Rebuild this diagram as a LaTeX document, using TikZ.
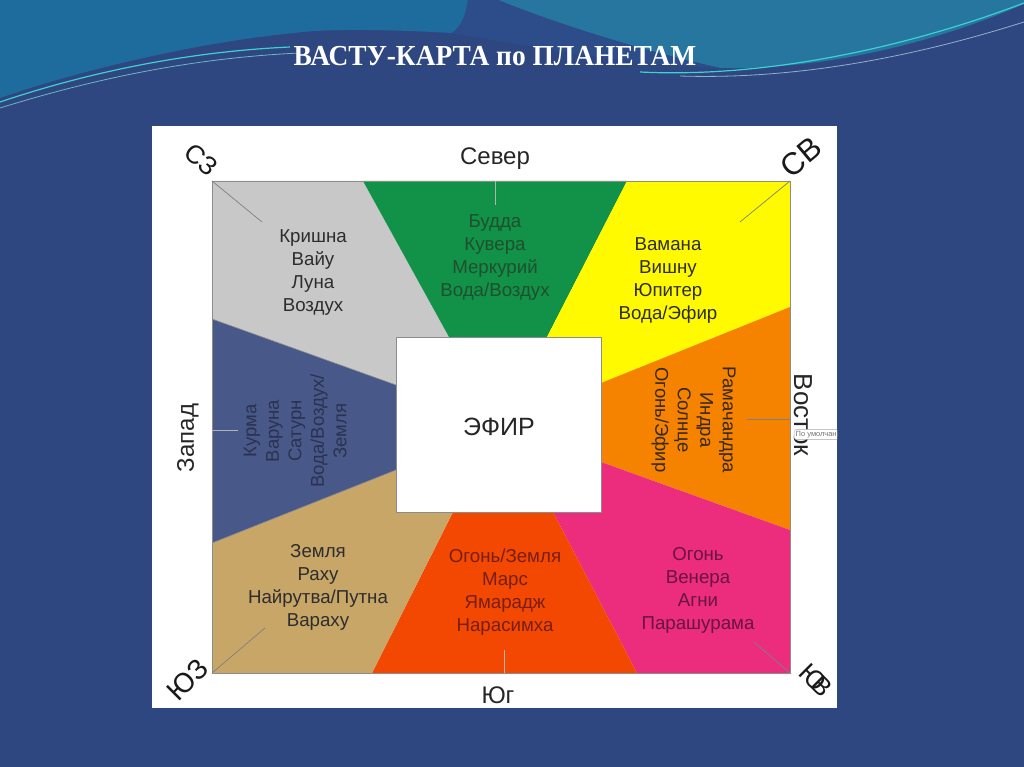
\documentclass[tikz,border=0pt]{standalone}
\usepackage{fontspec}
\setmainfont{Liberation Sans}
\newfontfamily\titlefont{Liberation Serif}
\definecolor{bgblue}{RGB}{46,71,128}
\definecolor{wavebg}{RGB}{30,108,158}
\definecolor{wavebgr}{RGB}{38,118,160}
\definecolor{ribbon}{RGB}{44,76,138}
\definecolor{cyanline}{RGB}{60,210,210}
\definecolor{cgray}{RGB}{200,200,200}
\definecolor{cgreen}{RGB}{18,145,72}
\definecolor{cyellow}{RGB}{255,250,0}
\definecolor{corange}{RGB}{245,131,0}
\definecolor{cpink}{RGB}{236,44,124}
\definecolor{cred}{RGB}{242,72,2}
\definecolor{ctan}{RGB}{199,166,104}
\definecolor{cblue}{RGB}{72,88,136}
\definecolor{txt}{RGB}{45,45,45}
\begin{document}
\begin{tikzpicture}[x=1pt,y=-1pt,
  lbl/.style={align=center,inner sep=0pt,font=\fontsize{18.7}{23}\selectfont,text=txt},
  dirl/.style={inner sep=0pt,font=\fontsize{24}{24}\selectfont,text=black!85},
  corner/.style={inner sep=0pt,text=black!90},
  tick/.style={draw=black!50,line width=0.7pt},
]
\useasboundingbox (0,0) rectangle (1024,767);
% background
\fill[bgblue] (0,0) rectangle (1024,767);
\fill[wavebg] (0,0) -- (468,0) .. controls (466,14) and (462,26) .. (452,33)
  .. controls (400,30) and (330,28) .. (294,33)
  .. controls (200,42) and (80,70) .. (0,98) -- cycle;
\fill[wavebgr] (498,0) -- (1024,0) -- (1024,4)
  .. controls (930,45) and (820,70) .. (720,68)
  .. controls (640,50) and (560,25) .. (498,0) -- cycle;
\fill[ribbon] (468,0) -- (498,0) .. controls (560,25) and (640,50) .. (720,68)
  .. controls (640,66) and (520,45) .. (452,33) .. controls (462,26) and (466,14) .. (468,0) -- cycle;
\draw[cyanline,line width=1.2pt] (0,102) .. controls (80,75) and (180,52) .. (290,47);
\draw[cyanline!60!white,line width=0.8pt,opacity=0.7] (0,108) .. controls (90,80) and (190,58) .. (300,53);
\draw[cyanline,line width=1.2pt] (640,72) .. controls (760,78) and (900,50) .. (1024,3);
\draw[white!80!cyanline,line width=0.8pt,opacity=0.6] (680,76) .. controls (800,80) and (920,55) .. (1024,22);
% title
\node (title) at (495,56) {\titlefont\bfseries\fontsize{29}{29}\selectfont\color{white}\scalebox{0.945}[1]{ВАСТУ-КАРТА по ПЛАНЕТАМ}};
% white panel
\fill[white] (152,126) rectangle (837,708);
% sectors
\fill[cgray] (212,181) -- (363,181) -- (449,337) -- (396,337) -- (396,385) -- (212,319) -- cycle;
\fill[cgreen] (363,181) -- (627,181) -- (547,337) -- (449,337) -- cycle;
\fill[cyellow] (627,181) -- (790,181) -- (790,307) -- (601,383) -- (601,337) -- (547,337) -- cycle;
\fill[corange] (790,307) -- (790,530) -- (601,462) -- (601,383) -- cycle;
\fill[cpink] (790,530) -- (790,673) -- (637,673) -- (553,512) -- (601,512) -- (601,462) -- cycle;
\fill[cred] (553,512) -- (637,673) -- (372,673) -- (453,512) -- cycle;
\fill[ctan] (453,512) -- (372,673) -- (212,673) -- (212,543) -- (396,470) -- (396,512) -- cycle;
\fill[cblue] (212,319) -- (396,385) -- (396,470) -- (212,543) -- cycle;
\draw[black!45,line width=0.6pt] (212,319) -- (396,385) (212,543) -- (396,470);
\draw[black!45,line width=0.8pt] (212,181) rectangle (790,673);
% centre
\node[draw=black!45,line width=0.8pt,fill=white,minimum width=205pt,minimum height=175pt,inner sep=0pt] (ether) at (498.5,424.5) {};
\node[inner sep=0pt,font=\fontsize{25}{25}\selectfont,text=black!85] (etherlbl) at (499,427) {ЭФИР};
% ticks
\coordinate (NW) at (212,181); \coordinate (NWe) at (262,222);
\coordinate (NE) at (790,181); \coordinate (NEe) at (740,222);
\coordinate (SW) at (212,673); \coordinate (SWe) at (265,628);
\coordinate (SE) at (790,673); \coordinate (SEe) at (754,642);
\coordinate (N) at (495,181); \coordinate (Ne) at (495,205);
\coordinate (S) at (504,673); \coordinate (Se) at (504,650);
\coordinate (W) at (212,430); \coordinate (We) at (238,430);
\coordinate (E) at (790,419); \coordinate (Ee) at (747,419);
\draw[tick] (NW) -- (NWe); \draw[tick] (NE) -- (NEe);
\draw[tick] (SW) -- (SWe); \draw[tick] (SE) -- (SEe);
\draw[tick,draw=black!30] (N) -- (Ne); \draw[tick,draw=black!30] (S) -- (Se);
\draw[tick,draw=black!30] (W) -- (We); \draw[tick] (E) -- (Ee);
% sector labels
\node[lbl] (kr) at (313,272.5) {Кришна\\Вайу\\Луна\\Воздух};
\node[lbl,text={rgb,255:red,30;green,80;blue,45}] (bu) at (495,257.5) {Будда\\Кувера\\Меркурий\\Вода/Воздух};
\node[lbl] (va) at (668,280.5) {Вамана\\Вишну\\Юпитер\\Вода/Эфир};
\node[lbl,rotate=90,text={rgb,255:red,42;green,50;blue,80},font=\fontsize{18.5}{22.5}\selectfont] (ku) at (295,431) {Курма\\Варуна\\Сатурн\\Вода/Воздух/\\Земля};
\node[lbl,rotate=-90,text={rgb,255:red,55;green,40;blue,20},font=\fontsize{18.5}{22.5}\selectfont] (ra) at (693.5,420) {Рамачандра\\Индра\\Солнце\\Огонь/Эфир};
\node[lbl] (ze) at (318,587.5) {Земля\\Раху\\Найрутва/Путна\\Вараху};
\node[lbl,text={rgb,255:red,120;green,30;blue,20}] (og) at (505,592.5) {Огонь/Земля\\Марс\\Ямарадж\\Нарасимха};
\node[lbl,text={rgb,255:red,105;green,20;blue,65}] (ve) at (698,590) {Огонь\\Венера\\Агни\\Парашурама};
% directions
\node[dirl] (north) at (495,159) {Север};
\node[dirl] (south) at (498,695) {Юг};
\node[dirl,rotate=90] (west) at (188,438) {Запад};
\node[dirl,rotate=-90,font=\fontsize{26}{26}\selectfont] (east) at (803,415) {Восток};
\node[corner,rotate=-40,font=\fontsize{26}{26}\selectfont] (nwl) at (201,160) {СЗ};
\node[corner,rotate=40,font=\fontsize{31}{31}\selectfont] (nel) at (801,157) {СВ};
\node[corner,rotate=45,font=\fontsize{28}{28}\selectfont] (swl) at (188,680) {ЮЗ};
\node[corner,rotate=-45,font=\fontsize{26}{26}\selectfont] (sel) at (816,680) {Ю\kern-9ptВ};
% tooltip
\begin{scope}
\clip (152,126) rectangle (837,708);
\node[draw=black!35,rounded corners=1.5pt,fill=white,inner sep=1.5pt,anchor=west,font=\fontsize{7.5}{7.5}\selectfont,text=black!55] (tip) at (794,434.5) {По умолчанию};
\end{scope}
\end{tikzpicture}
\end{document}
